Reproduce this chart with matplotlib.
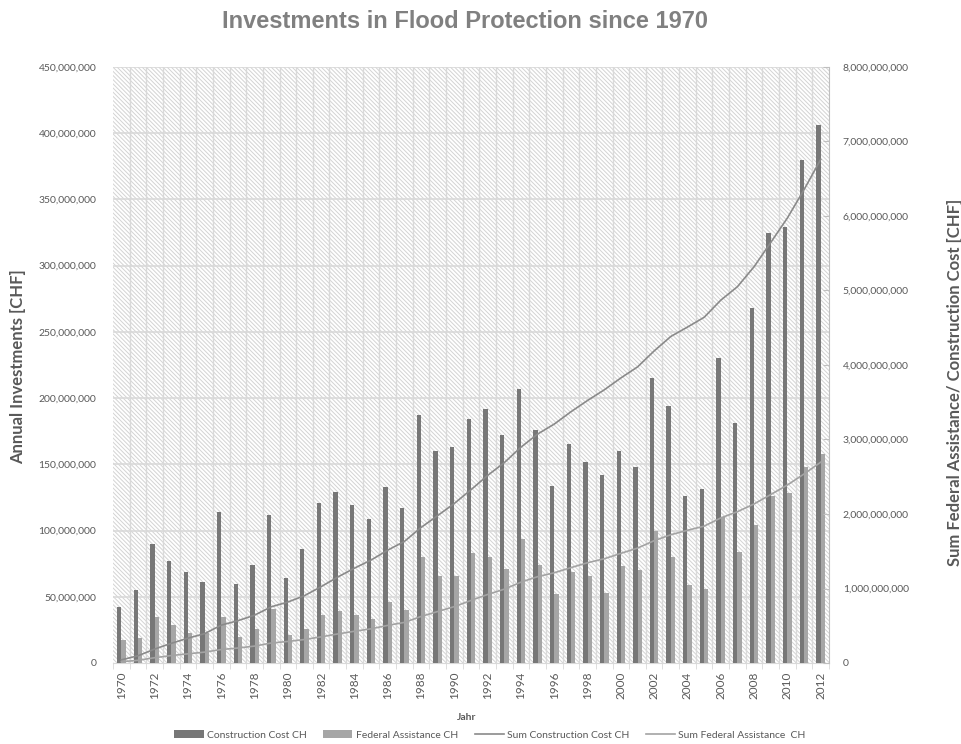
import numpy as np
import matplotlib
matplotlib.use("Agg")
import matplotlib.pyplot as plt
from matplotlib.patches import Rectangle, Patch
from matplotlib.lines import Line2D
from matplotlib.ticker import FuncFormatter, MultipleLocator

years = list(range(1970, 2013))
construction_cost = [42, 55, 90, 77, 69, 61, 114, 60, 74, 112,
                     64, 86, 121, 129, 119, 109, 133, 117, 187, 160,
                     163, 184, 192, 172, 207, 176, 134, 165, 152, 142,
                     160, 148, 215, 194, 126, 131, 230, 181, 268, 325,
                     329, 380, 406]  # million CHF
federal_assistance = [17, 19, 35, 29, 23, 23, 35, 20, 26, 41,
                      21, 26, 36, 39, 36, 33, 46, 40, 80, 66,
                      66, 83, 80, 71, 94, 74, 52, 69, 66, 53,
                      73, 70, 100, 80, 59, 56, 110, 84, 104, 126,
                      128, 148, 158]  # million CHF
# cumulative sums (million CHF)
sum_construction = [42, 97, 187, 264, 333, 394, 508, 568, 642, 754,
                    818, 904, 1025, 1154, 1273, 1382, 1515, 1632, 1819, 1979,
                    2142, 2326, 2518, 2690, 2897, 3073, 3207, 3372, 3524, 3666,
                    3826, 3974, 4189, 4383, 4509, 4640, 4870, 5051, 5319, 5644,
                    5973, 6353, 6759]
sum_federal = [17, 36, 71, 100, 123, 146, 181, 201, 227, 268,
               289, 315, 351, 390, 426, 459, 505, 545, 625, 691,
               757, 840, 920, 991, 1085, 1159, 1211, 1280, 1346, 1399,
               1472, 1542, 1642, 1722, 1781, 1837, 1947, 2031, 2135, 2261,
               2389, 2537, 2695]

title = "Investments in Flood Protection since 1970"
left_label = "Annual Investments [CHF]"
right_label = "Sum Federal Assistance/ Construction Cost [CHF]"
x_label = "Jahr"
legend_labels = ["Construction Cost CH", "Federal Assistance CH",
                 "Sum Construction Cost CH", "Sum Federal Assistance  CH"]

c_dark = "#777777"
c_light = "#a6a6a6"
c_line1 = "#8a8a8a"
c_line2 = "#a3a3a3"
c_text = "#595959"
c_grid = "#d9d9d9"

plt.rcParams['font.family'] = ['Lato', 'DejaVu Sans']
plt.rcParams['hatch.linewidth'] = 0.7

fig = plt.figure(figsize=(9.62, 7.44), dpi=100)
ax = fig.add_axes([113/962, 81/744, 716/962, 596/744])
ax2 = ax.twinx()

n = len(years)
x = np.arange(n)

# hatched background
bg = Rectangle((0, 0), 1, 1, transform=ax.transAxes, facecolor="white",
               edgecolor="#d3d3d3", hatch="\\" * 8, linewidth=0, zorder=0)
ax.add_patch(bg)

cc = np.array(construction_cost) * 1e6
fa = np.array(federal_assistance) * 1e6
w = 0.26
ax.bar(x - w/2, cc, width=w, color=c_dark, zorder=3)
ax.bar(x + w/2, fa, width=w, color=c_light, zorder=3)

ax.set_xlim(-0.5, n - 0.5)
ax.set_ylim(0, 450e6)
ax.yaxis.set_major_locator(MultipleLocator(50e6))
fmt = FuncFormatter(lambda v, p: f"{int(round(v)):,}")
ax.yaxis.set_major_formatter(fmt)

# grid
for yv in np.arange(50e6, 451e6, 50e6):
    ax.axhline(yv, color=c_grid, lw=1.2, zorder=1)
for xv in np.arange(0.5, n - 0.5, 1):
    ax.axvline(xv, color=c_grid, lw=1.0, zorder=1)

ax.set_xticks(x[::2])
ax.set_xticklabels([str(y) for y in years[::2]], rotation=90, fontsize=8.5, color=c_text)
ax.set_xticks(np.arange(-0.5, n, 1), minor=True)
ax.tick_params(axis='x', which='major', length=0, pad=6)
ax.tick_params(axis='x', which='minor', length=4, color=c_grid)
ax.tick_params(axis='y', length=0, labelsize=7.5, labelcolor=c_text, pad=12)

for s in ['top', 'left', 'right']:
    ax.spines[s].set_visible(False)
ax.spines['bottom'].set_color(c_grid)

ax2.plot(x, np.array(sum_construction) * 1e6, color=c_line1, lw=1.2, zorder=4)
ax2.plot(x, np.array(sum_federal) * 1e6, color=c_line2, lw=1.2, zorder=4)
ax2.set_ylim(0, 8e9)
ax2.yaxis.set_major_locator(MultipleLocator(1e9))
ax2.yaxis.set_major_formatter(fmt)
ax2.tick_params(axis='y', length=4, direction='in', color="#bfbfbf",
                labelsize=7.5, labelcolor=c_text, pad=10)
for s in ['top', 'left', 'bottom']:
    ax2.spines[s].set_visible(False)
ax2.spines['right'].set_color("#bfbfbf")

fig.text(465/962, 1 - 22/744, title, ha='center', va='center', fontsize=17,
         fontweight='bold', color="#808080", family=['Liberation Sans', 'DejaVu Sans'])
fig.text(18/962, 1 - 367/744, left_label, rotation=90, ha='center',
         va='center', fontsize=12, fontweight='bold', color=c_text)
fig.text(955/962, 1 - 382/744, right_label, rotation=90, ha='center',
         va='center', fontsize=12, fontweight='bold', color=c_text)
fig.text(467/962, 1 - 718/744, x_label, ha='center', va='center',
         fontsize=7.5, fontweight='bold', color=c_text)

handles = [Patch(facecolor=c_dark), Patch(facecolor=c_light),
           Line2D([], [], color=c_line1, lw=1.2), Line2D([], [], color=c_line2, lw=1.2)]
fig.legend(handles, legend_labels, loc='center', bbox_to_anchor=(490/962, 1 - 735/744),
           ncol=4, frameon=False, fontsize=7.5, handlelength=2.8, handleheight=0.8,
           columnspacing=1.6, handletextpad=0.3, labelcolor=c_text)

fig.savefig("out.png", dpi=100)
